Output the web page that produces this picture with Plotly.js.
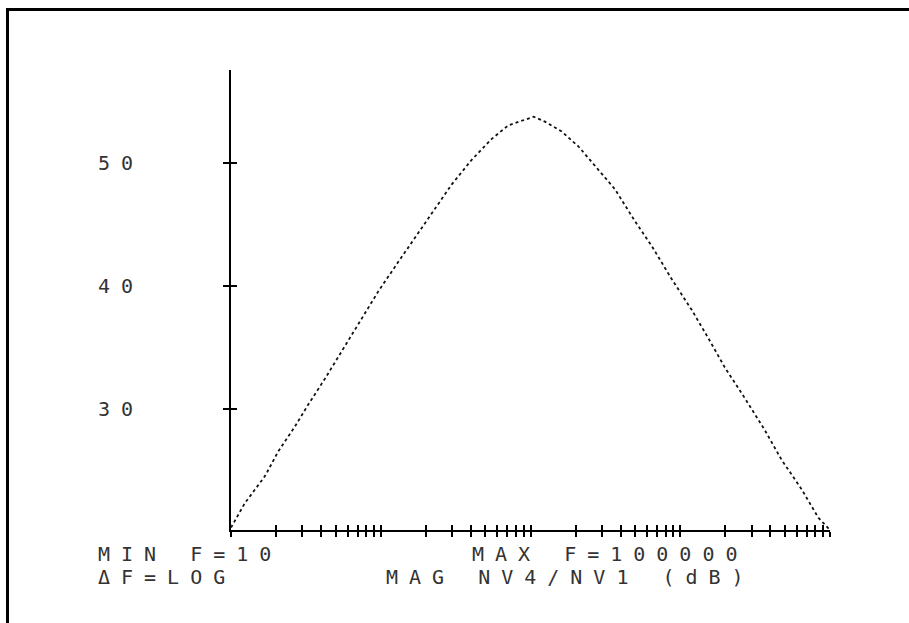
<!DOCTYPE html>
<html>
<head>
<meta charset="utf-8">
<script src="https://cdn.plot.ly/plotly-3.0.1.min.js"></script>
<style>
  html, body { margin: 0; padding: 0; background: #fff; }
  #wrap { position: relative; width: 909px; height: 623px; }
  #chart { width: 909px; height: 623px; }
  #frame { position: absolute; left: 6px; top: 8px; right: 0; bottom: 0;
           border-top: 3px solid #000; border-left: 3px solid #000; pointer-events: none; }
  .ytick text { letter-spacing: 11px; }
  .annotation-text { letter-spacing: 11px; }
</style>
</head>
<body>
<div id="wrap">
  <div id="chart"></div>
  <div id="frame"></div>
</div>
<script>
// Frequency (Hz) and magnitude NV4/NV1 (dB)
const freq = [10, 12.4, 16.9, 20.7, 26.7, 32.8, 42.4, 54.8, 70.8, 96.3, 131, 161, 219, 298, 405, 551, 711, 918, 1050, 1250, 1615, 2085, 2697, 3667, 4988, 6445, 8768, 11920, 15390, 19890, 27050, 36780, 47550, 64700, 83560, 92650, 100000];
const mag  = [20.4, 22.4, 24.6, 26.6, 28.6, 30.4, 32.5, 34.7, 37.0, 39.6, 42.0, 43.6, 46.0, 48.3, 50.3, 52.0, 53.1, 53.6, 53.8, 53.4, 52.6, 51.4, 49.8, 47.9, 45.3, 43.3, 40.6, 38.1, 35.8, 33.4, 30.9, 28.3, 25.9, 23.5, 21.2, 20.6, 20.2];

const yTickVals = [30, 40, 50];
const yTickText = ['30', '40', '50'];
const textLines = [
  {text: 'MIN F=10', x: -0.2237, y: -0.0511},
  {text: 'ΔF=LOG', x: -0.2237, y: -0.1022},
  {text: 'MAX F=100000', x: 0.4007, y: -0.0511},
  {text: 'MAG NV4/NV1 (dB)', x: 0.2571, y: -0.1022}
];

const monoFont = {family: 'DejaVu Sans Mono', size: 20, color: '#333'};

const traces = [{
  x: freq, y: mag, type: 'scatter', mode: 'lines',
  line: {color: '#111', width: 1.8, dash: 'dot'},
  hoverinfo: 'skip', showlegend: false
}];

const xr = [1, 5];
const yr = [20.2, 57.6];

const layout = {
  width: 909, height: 623,
  margin: {l: 231, r: 79, t: 70, b: 93},
  paper_bgcolor: '#fff', plot_bgcolor: '#fff',
  showlegend: false,
  xaxis: {
    type: 'log', range: xr, dtick: 'D1', showgrid: false, zeroline: false,
    showline: true, linecolor: '#000', linewidth: 2,
    ticks: 'outside', ticklen: 5, tickwidth: 2, tickcolor: '#000',
    showticklabels: false
  },
  xaxis2: {
    type: 'log', range: xr, dtick: 'D1', overlaying: 'x', side: 'bottom',
    showgrid: false, zeroline: false, showline: false,
    ticks: 'inside', ticklen: 5, tickwidth: 2, tickcolor: '#000',
    showticklabels: false
  },
  yaxis: {
    range: yr, tickvals: yTickVals, ticktext: yTickText, showgrid: false, zeroline: false,
    showline: true, linecolor: '#000', linewidth: 2,
    ticks: 'outside', ticklen: 6, tickwidth: 2, tickcolor: '#000',
    tickfont: monoFont, ticklabelstandoff: 75
  },
  yaxis2: {
    range: yr, tickvals: yTickVals, overlaying: 'y', side: 'left',
    showgrid: false, zeroline: false, showline: false,
    ticks: 'inside', ticklen: 6, tickwidth: 2, tickcolor: '#000',
    showticklabels: false
  },
  annotations: textLines.map(t => ({
    text: t.text, xref: 'paper', yref: 'paper', x: t.x, y: t.y,
    xanchor: 'left', yanchor: 'middle', align: 'left', showarrow: false,
    borderpad: 0, font: monoFont
  }))
};

const dummy = {x: [], y: [], xaxis: 'x2', yaxis: 'y2', type: 'scatter', mode: 'lines', showlegend: false, hoverinfo: 'skip'};

Plotly.newPlot('chart', traces.concat([dummy]), layout, {staticPlot: true});
</script>
</body>
</html>
